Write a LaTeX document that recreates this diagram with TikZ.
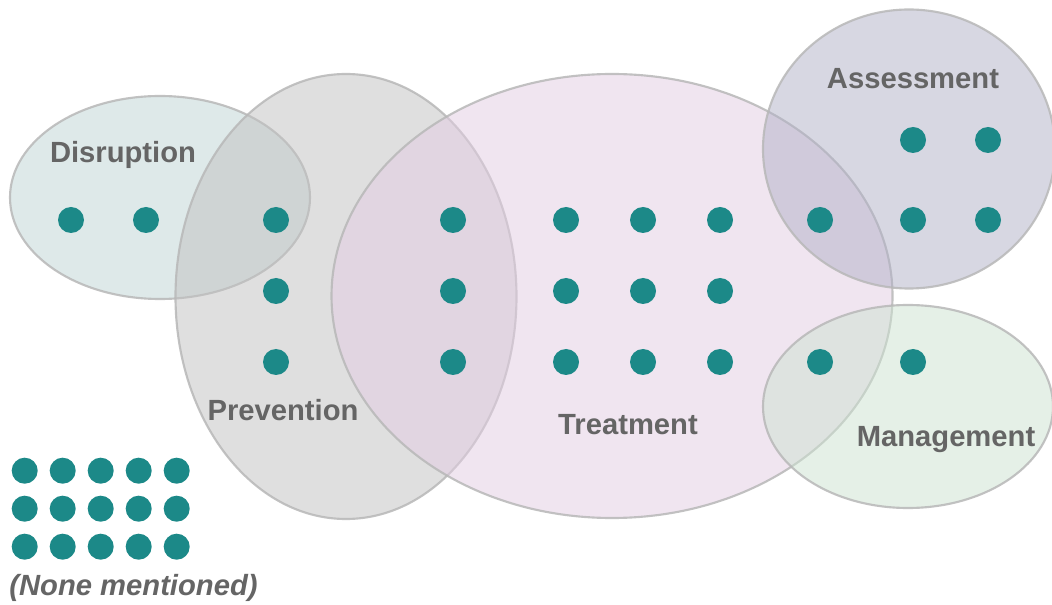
\documentclass[tikz,border=0pt]{standalone}
\usepackage{fontspec}
\setmainfont{Liberation Sans}
\begin{document}
\definecolor{dotteal}{HTML}{1C8988}
\definecolor{labelgray}{HTML}{656565}
\definecolor{rimgray}{HTML}{B8B8B8}
\definecolor{disfill}{RGB}{191,213,213}
\definecolor{prefill}{RGB}{193,193,193}
\definecolor{trefill}{RGB}{227,205,227}
\definecolor{assfill}{RGB}{177,177,199}
\definecolor{manfill}{RGB}{205,227,209}
\begin{tikzpicture}[x=0.75pt,y=-0.75pt,
  setblob/.style={draw=rimgray, draw opacity=0.85, line width=1.6pt, fill opacity=0.5},
  dot/.style={circle, fill=dotteal, inner sep=0pt, minimum size=19.5pt},
  setlabel/.style={anchor=base, text=labelgray, font=\bfseries\fontsize{21.9}{25}\selectfont, inner sep=0pt}]
\useasboundingbox (0,0) rectangle (1052,605);

% overlapping category regions
\fill[white] (0,0) rectangle (1052,605);
\draw[setblob, fill=disfill] (160,197.5) ellipse [x radius=150, y radius=101.5];
\draw[setblob, fill=prefill] (346,296.5) ellipse [x radius=170.5, y radius=222.5];
\draw[setblob, fill=trefill] (612,296) ellipse [x radius=280.5, y radius=222];
\draw[setblob, fill=assfill] (909,149) ellipse [x radius=146, y radius=139.5];
\draw[setblob, fill=manfill] (908,406.5) ellipse [x radius=145, y radius=101.5];

% region labels
\node[setlabel] (lbl-dis) at (123,163) {Disruption};
\node[setlabel] (lbl-pre) at (283,421) {Prevention};
\node[setlabel] (lbl-tre) at (628,435) {Treatment};
\node[setlabel] (lbl-ass) at (913,89) {Assessment};
\node[setlabel] (lbl-man) at (946,446) {Management};
\node[setlabel, font=\bfseries\itshape\fontsize{21.9}{25}\selectfont] (lbl-none) at (133.5,595) {(None mentioned)};

% items placed in the regions
\foreach \x in {71,146,276,453,566,643,720,820,913,988}
  \node[dot] (top-\x) at (\x,220) {};
\foreach \x in {913,988}
  \node[dot] (ass-\x) at (\x,140) {};
\foreach \x in {276,453,566,643,720}
  \node[dot] (mid-\x) at (\x,291) {};
\foreach \x in {276,453,566,643,720,820,913}
  \node[dot] (low-\x) at (\x,362) {};

% items with no category
\foreach \i/\x in {1/24.7,2/62.7,3/100.7,4/138.7,5/176.7}
  \foreach \j/\y in {1/470.7,2/508.7,3/546.7}
    \node[dot] (none-\i-\j) at (\x,\y) {};
\end{tikzpicture}
\end{document}
